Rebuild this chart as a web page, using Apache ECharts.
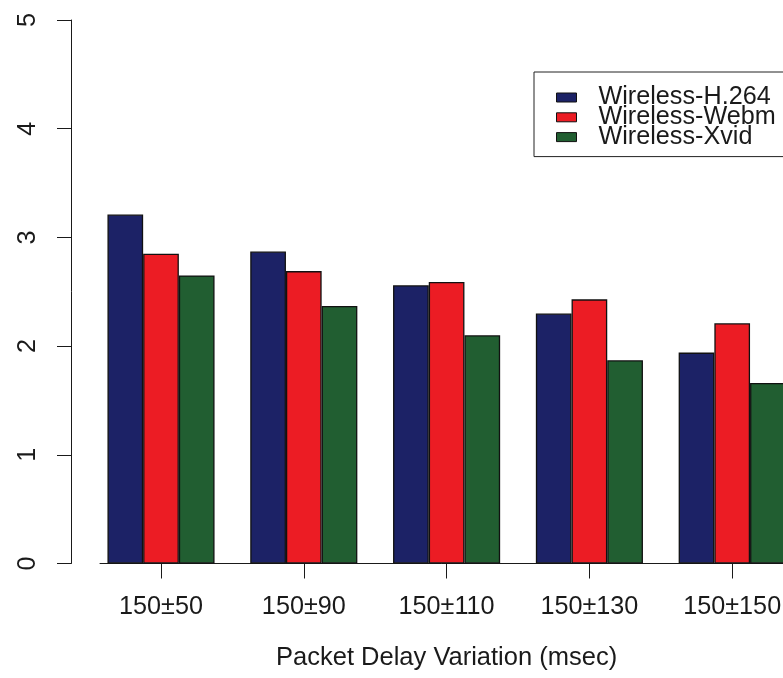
<!DOCTYPE html>
<html>
<head>
<meta charset="utf-8">
<script src="https://cdn.jsdelivr.net/npm/echarts@6/dist/echarts.min.js"></script>
<style>
  html, body { margin: 0; padding: 0; background: #fff; }
  #chart { width: 783px; height: 678px; }
</style>
</head>
<body>
<div id="chart"></div>
<script>
// Packet delay variation settings (msec)
const categories = ['150±50', '150±90', '150±110', '150±130', '150±150'];
const seriesNames = ['Wireless-H.264', 'Wireless-Webm', 'Wireless-Xvid'];
const h264 = [3.21, 2.87, 2.56, 2.30, 1.94];
const webm = [2.85, 2.69, 2.59, 2.43, 2.21];
const xvid = [2.65, 2.37, 2.10, 1.87, 1.66];
const yTicks = [0, 1, 2, 3, 4, 5];

const colors = ['#1c2266', '#ec1c24', '#215e31'];
const font = 'Liberation Sans, Arial, sans-serif';
const fs = 25.2;
const ink = '#1a1a1a';

const chart = echarts.init(document.getElementById('chart'), null, { renderer: 'canvas' });

const barSeries = [h264, webm, xvid].map((vals, i) => ({
  name: seriesNames[i],
  type: 'bar',
  xAxisIndex: 0,
  yAxisIndex: 0,
  data: vals,
  barGap: '0%',
  barCategoryGap: '25%',
  itemStyle: { color: colors[i], borderColor: '#111', borderWidth: 1.3 }
}));

chart.setOption({
  animation: false,
  backgroundColor: '#fff',
  textStyle: { fontFamily: font },
  grid: [
    // plotting area for the bars (runs a little past the right edge)
    { left: 89.6, width: 714, top: 20, bottom: 114.5, containLabel: false, outerBoundsMode: 'none' },
    // separate area that only carries the horizontal axis line
    { left: 100, width: 700, top: 20, bottom: 114.5, containLabel: false, outerBoundsMode: 'none' }
  ],
  legend: {
    orient: 'vertical',
    left: 534,
    top: 72,
    padding: [13, 40, 7, 22],
    borderColor: '#222',
    borderWidth: 1,
    itemWidth: 20,
    itemHeight: 9,
    itemGap: -5.2,
    icon: 'rect',
    itemStyle: { borderColor: '#111', borderWidth: 1 },
    textStyle: { fontFamily: font, fontSize: fs, color: ink, padding: [0, 0, 0, 17] },
    data: seriesNames
  },
  xAxis: [
    {
      type: 'category',
      gridIndex: 0,
      data: categories,
      axisLine: { show: false },
      axisTick: { show: true, alignWithLabel: true, length: 15, lineStyle: { color: ink, width: 1 } },
      axisLabel: { fontFamily: font, fontSize: fs, color: ink, margin: 31.5 },
      name: 'Packet Delay Variation (msec)',
      nameLocation: 'middle',
      nameGap: 81.5,
      nameTextStyle: { fontFamily: font, fontSize: 25.5, color: ink }
    },
    {
      type: 'value',
      gridIndex: 1,
      min: 0, max: 1,
      axisLine: { show: true, onZero: false, lineStyle: { color: ink, width: 1 } },
      axisTick: { show: false },
      axisLabel: { show: false },
      splitLine: { show: false }
    }
  ],
  yAxis: [
    {
      type: 'value',
      gridIndex: 0,
      min: 0, max: 5, interval: 1,
      offset: 18.6,
      axisLine: { show: true, lineStyle: { color: ink, width: 1 } },
      axisTick: { show: true, length: 14, lineStyle: { color: ink, width: 1 } },
      axisLabel: {
        fontFamily: font, fontSize: fs, color: ink, rotate: 90, margin: 30,
        formatter: v => (yTicks.includes(v) ? String(v) : '')
      },
      splitLine: { show: false }
    },
    {
      type: 'value',
      gridIndex: 1,
      show: false
    }
  ],
  series: barSeries
});
</script>
</body>
</html>
